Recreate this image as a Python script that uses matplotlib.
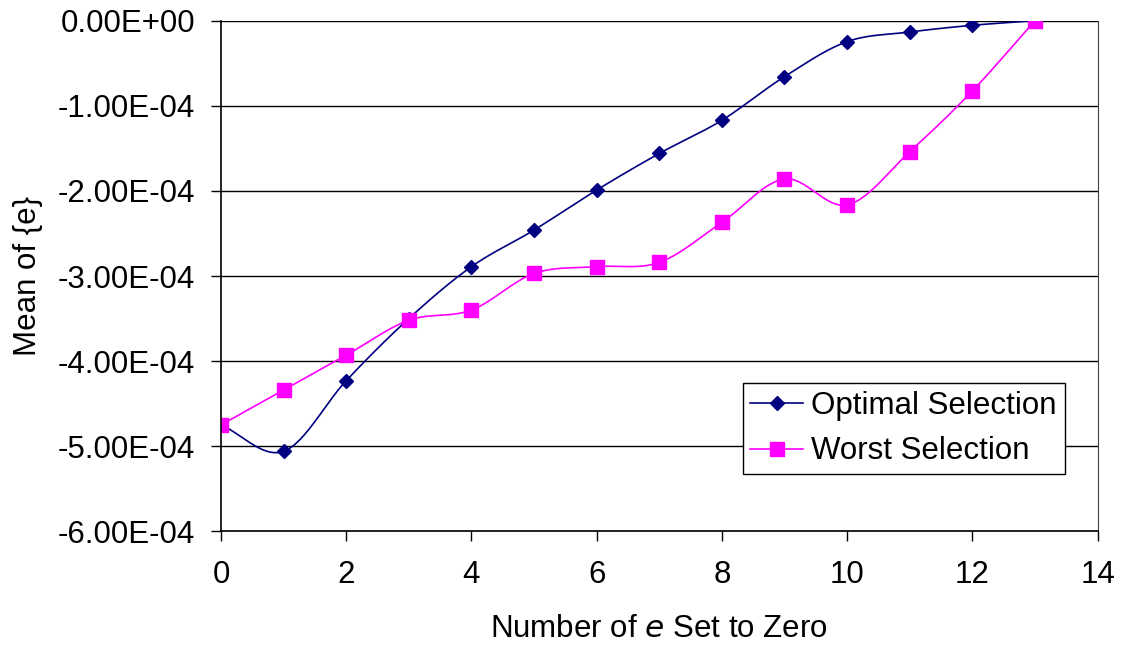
import numpy as np
import matplotlib
matplotlib.use("Agg")
import matplotlib.pyplot as plt
from matplotlib.lines import Line2D

plt.rcParams['font.family'] = ['Liberation Sans', 'DejaVu Sans']

x_vals = [0, 1, 2, 3, 4, 5, 6, 7, 8, 9, 10, 11, 12, 13]
optimal = [-4.75e-4, -5.06e-4, -4.23e-4, -3.50e-4, -2.89e-4, -2.46e-4, -1.99e-4,
           -1.56e-4, -1.17e-4, -0.657e-4, -0.246e-4, -0.133e-4, -0.054e-4, 0.0]
worst = [-4.75e-4, -4.34e-4, -3.93e-4, -3.52e-4, -3.40e-4, -2.97e-4, -2.89e-4,
         -2.84e-4, -2.37e-4, -1.86e-4, -2.165e-4, -1.54e-4, -0.826e-4, 0.0]
y_ticks = [0.0, -1e-4, -2e-4, -3e-4, -4e-4, -5e-4, -6e-4]
y_tick_labels = ["0.00E+00", "-1.00E-04", "-2.00E-04", "-3.00E-04",
                 "-4.00E-04", "-5.00E-04", "-6.00E-04"]
x_ticks = [0, 2, 4, 6, 8, 10, 12, 14]


def smooth(xs, ys, n=30):
    """Catmull-Rom style curve through the given points (rendering only)."""
    xs = np.asarray(xs, float)
    ys = np.asarray(ys, float)
    px = np.concatenate([[2 * xs[0] - xs[1]], xs, [2 * xs[-1] - xs[-2]]])
    py = np.concatenate([[2 * ys[0] - ys[1]], ys, [2 * ys[-1] - ys[-2]]])
    ox, oy = [], []
    t = np.linspace(0, 1, n, endpoint=False)
    for i in range(1, len(px) - 2):
        p0x, p1x, p2x, p3x = px[i - 1:i + 3]
        p0y, p1y, p2y, p3y = py[i - 1:i + 3]
        t2, t3 = t * t, t * t * t
        ox.append(0.5 * (2 * p1x + (-p0x + p2x) * t + (2 * p0x - 5 * p1x + 4 * p2x - p3x) * t2
                         + (-p0x + 3 * p1x - 3 * p2x + p3x) * t3))
        oy.append(0.5 * (2 * p1y + (-p0y + p2y) * t + (2 * p0y - 5 * p1y + 4 * p2y - p3y) * t2
                         + (-p0y + 3 * p1y - 3 * p2y + p3y) * t3))
    ox.append([xs[-1]])
    oy.append([ys[-1]])
    return np.concatenate(ox), np.concatenate(oy)


FS = 22.5
fig = plt.figure(figsize=(11.35, 6.47), dpi=100)
ax = fig.add_axes([0.1947, 0.1788, 0.967 - 0.1947, 0.968 - 0.1788])

navy = "#000080"
mag = "#FF00FF"
DMS = 7
SMS = 10

sx, sy = smooth(x_vals, worst)
ax.plot(sx, sy, color=mag, lw=1.2, zorder=3)
sx, sy = smooth(x_vals, optimal)
ax.plot(sx, sy, color=navy, lw=1.2, zorder=3)
ax.plot(x_vals, optimal, ls='none', marker='D', ms=DMS, color=navy, zorder=4)
ax.plot(x_vals, worst, ls='none', marker='s', ms=SMS, color=mag, zorder=5)

ax.set_xlim(0, 14)
ax.set_ylim(-6e-4, 0)
ax.set_xticks(x_ticks)
ax.set_yticks(y_ticks)
ax.set_yticklabels(y_tick_labels)
ax.tick_params(axis='both', labelsize=FS, direction='out', length=7, width=1, color='black')
ax.tick_params(axis='y', pad=11.5)
ax.tick_params(axis='x', pad=14)
ax.grid(axis='y', color='black', lw=1)
ax.set_axisbelow(True)
for s in ['left', 'bottom']:
    ax.spines[s].set_color('black')
    ax.spines[s].set_linewidth(1.2)
ax.spines['right'].set_color('#404040')
ax.spines['top'].set_visible(False)
ax.spines['left'].set_zorder(6)

ax.set_ylabel("Mean of {e}", fontsize=FS, labelpad=11)
ax.set_xlabel(r"Number of $\it{e}$ Set to Zero", fontsize=FS, labelpad=17)

handles = [Line2D([], [], color=navy, marker='D', ms=DMS, lw=1.2),
           Line2D([], [], color=mag, marker='s', ms=SMS, lw=1.2)]
leg = ax.legend(handles, ["Optimal Selection", "Worst Selection"],
                loc='upper left', bbox_to_anchor=(0.595, 0.2904),
                fontsize=FS, frameon=True, fancybox=False, edgecolor='black',
                framealpha=1, handlelength=1.68, handletextpad=0.27,
                borderpad=0.25, labelspacing=0.5, borderaxespad=0)
leg.get_frame().set_linewidth(1)

fig.savefig("out.png", dpi=100)
